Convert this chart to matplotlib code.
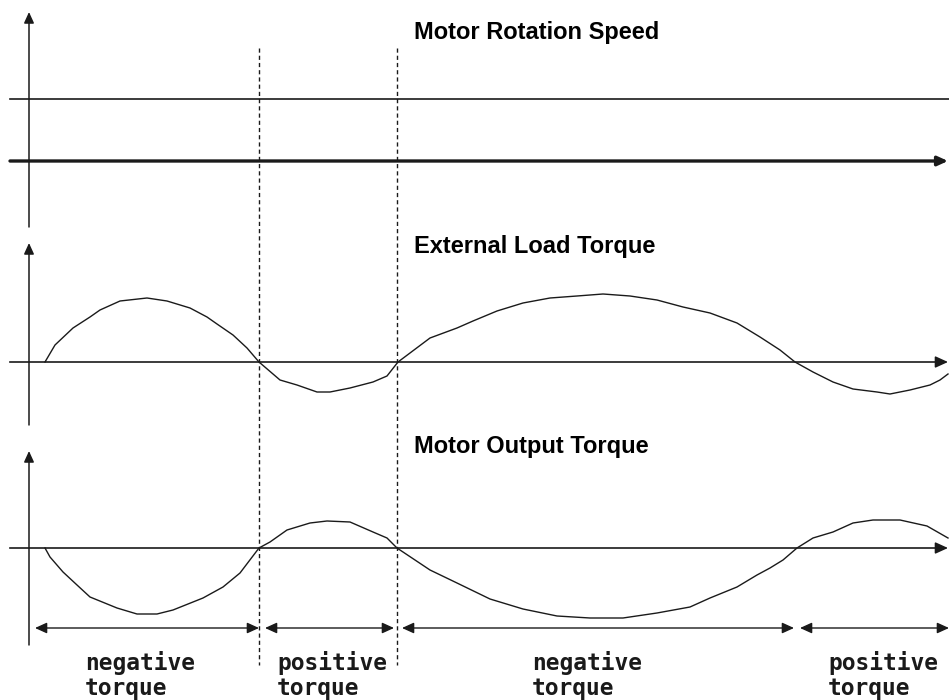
import numpy as np
import matplotlib
matplotlib.use('Agg')
import matplotlib.pyplot as plt

# time axis is in screen pixels of the original drawing
speed_t = [10, 949]
speed_level = [62, 62]

load_t = [45, 55, 73, 90, 100, 120, 147, 167, 190, 207, 217, 233, 247, 259,
          280, 297, 317, 330, 350, 373, 387, 398, 430, 457, 473, 497, 523, 550,
          577, 603, 630, 657, 683, 710, 737, 760, 780, 795, 813, 833, 853, 877,
          890, 910, 930, 940, 948]
load_torque = [0, 17, 34, 45, 52, 61, 64, 61, 54, 45, 38, 27, 14, 0,
               -18, -23, -30, -30, -26, -20, -14, 0, 24, 34, 41, 51, 59, 64,
               66, 68, 66, 62, 55, 49, 39, 25, 12, 0, -10, -20, -27, -30,
               -32, -28, -23, -18, -12]

out_t = [45, 50, 63, 77, 90, 117, 137, 157, 173, 203, 223, 240, 259, 270,
         287, 310, 327, 350, 373, 387, 397, 430, 457, 490, 523, 557, 590, 623,
         657, 690, 710, 737, 757, 770, 783, 797, 813, 833, 853, 873, 900, 927,
         948]
out_torque = [0, -9, -24, -37, -49, -60, -66, -66, -62, -50, -39, -25, 0, 6,
              18, 25, 27, 26, 16, 10, 0, -22, -35, -51, -61, -68, -70, -70,
              -65, -59, -50, -39, -27, -20, -12, 0, 10, 16, 25, 28, 28, 22,
              10]

crossings = [259, 397]
region_start = [35, 265, 402, 800]
region_end = [259, 394, 794, 949]
region_labels = ['negative\ntorque', 'positive\ntorque',
                 'negative\ntorque', 'positive\ntorque']
label_x = [85, 277, 532, 828]

titles = ['Motor Rotation Speed', 'External Load Torque', 'Motor Output Torque']

# layout (pixels)
panel_zero = [161, 362, 548]
panel_bottom = [227, 425, 645]
panel_top = [12, 243, 451]
title_y = [33, 247, 446]
title_x = 414
origin_x = 29
line_x0 = 10
line_x1 = 948
arrow_row_y = 628

col = '#1a1a1a'
head = '-|>,head_length=0.55,head_width=0.25'
head2 = '<|-|>,head_length=0.55,head_width=0.25'

fig = plt.figure(figsize=(9.49, 7), dpi=100)
ax = fig.add_axes([0, 0, 1, 1])
ax.set_xlim(0, 949)
ax.set_ylim(700, 0)
ax.axis('off')

def arrow(ax, x0, y0, x1, y1, lw=1.1, style=head, ms=10):
  ax.annotate('', xy=(x1, y1), xytext=(x0, y0),
              arrowprops=dict(arrowstyle=style, color=col, lw=lw,
                              shrinkA=0, shrinkB=0, mutation_scale=ms))

# vertical axes
for i in range(3):
  arrow(ax, origin_x, panel_bottom[i], origin_x, panel_top[i], ms=12)

# speed panel
ax.plot(speed_t, panel_zero[0] - np.array(speed_level), '-', color=col, lw=1.2)
arrow(ax, line_x0, panel_zero[0], line_x1, panel_zero[0], lw=2.4, ms=11)

# load torque panel
ax.plot([line_x0, line_x1 - 5], [panel_zero[1]] * 2, color=col, lw=1.2)
arrow(ax, line_x1 - 10, panel_zero[1], line_x1, panel_zero[1], ms=14)
ax.plot(load_t, panel_zero[1] - np.array(load_torque), '-', color=col, lw=1.0)

# output torque panel
ax.plot([line_x0, line_x1 - 5], [panel_zero[2]] * 2, color=col, lw=1.2)
arrow(ax, line_x1 - 10, panel_zero[2], line_x1, panel_zero[2], ms=14)
ax.plot(out_t, panel_zero[2] - np.array(out_torque), '-', color=col, lw=1.0)

# dashed boundaries
for x in crossings:
  ax.plot([x, x], [48, 665], color=col, lw=1.0, dashes=(3, 2.2))

# region arrows and labels
for i, lab in enumerate(region_labels):
  arrow(ax, region_start[i], arrow_row_y, region_end[i], arrow_row_y,
        lw=1.0, style=head2, ms=13)
  lines = lab.split('\n')
  for j, s in enumerate(lines):
    ax.text(label_x[i], 663 + 25 * j, s, ha='left', va='center',
            fontsize=16.5, fontweight='bold', color=col,
            family=['DejaVu Sans Mono'])

for i, t in enumerate(titles):
  ax.text(title_x, title_y[i], t, ha='left', va='center',
          fontsize=17, fontweight='bold', color='black',
          family=['Liberation Sans'])

plt.savefig('out.png', dpi=100)
plt.close('all')
